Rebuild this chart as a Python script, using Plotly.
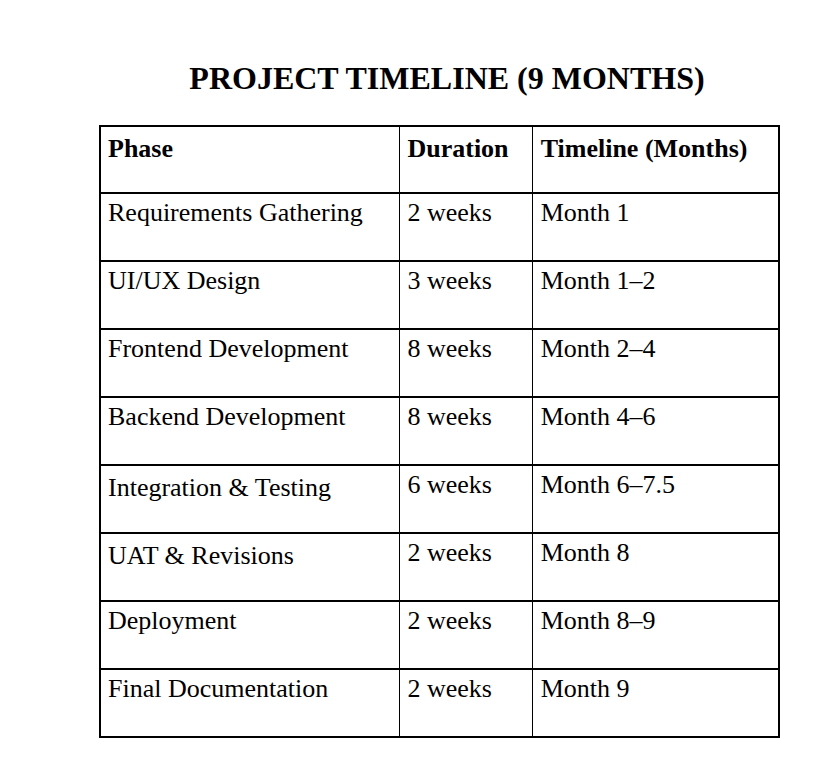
import plotly.graph_objects as go

headers = ["Phase", "Duration", "Timeline (Months)"]
phases = ["Requirements Gathering", "UI/UX Design", "Frontend Development", "Backend Development",
          "Integration & Testing", "UAT & Revisions", "Deployment", "Final Documentation"]
durations = ["2 weeks", "3 weeks", "8 weeks", "8 weeks", "6 weeks", "2 weeks", "2 weeks", "2 weeks"]
timelines = ["Month 1", "Month 1–2", "Month 2–4", "Month 4–6", "Month 6–7.5", "Month 8", "Month 8–9", "Month 9"]

W, H = 819, 762
font = "Liberation Serif, Times New Roman, serif"

fig = go.Figure(go.Table(
    columnwidth=[299, 133, 246],
    header=dict(values=["<b>%s</b>" % h for h in headers],
                align="left", height=67,
                fill_color="white", line=dict(color="black", width=1.5),
                font=dict(family=font, size=26, color="black")),
    cells=dict(values=[phases, durations, timelines],
               align="left", height=68,
               fill_color="white", line=dict(color="black", width=1.5),
               font=dict(family=font, size=26, color="black")),
    domain=dict(x=[92 / W, 771 / W], y=[0, 1 - 118 / H]),
))
fig.update_layout(
    width=W, height=H, margin=dict(l=0, r=0, t=0, b=0),
    paper_bgcolor="white",
    title=dict(text="<b>PROJECT TIMELINE (9 MONTHS)</b>", x=439 / W, xanchor="center",
               y=1 - 70 / H, yanchor="middle",
               font=dict(family=font, size=32, color="black")),
)
fig.write_html("out.html")
